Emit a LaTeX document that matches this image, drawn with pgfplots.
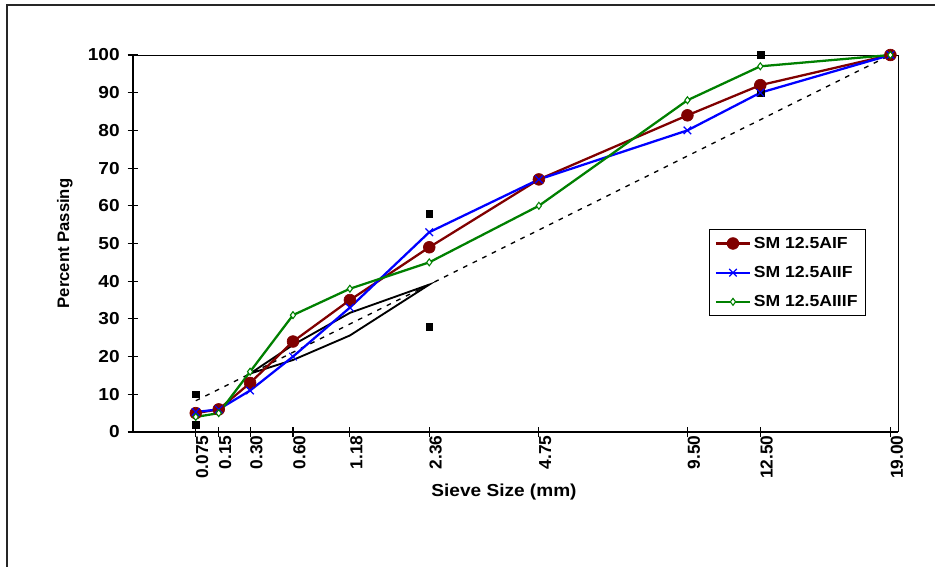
\documentclass[border=0pt]{standalone}
\usepackage{fontspec}
\setmainfont{Liberation Sans}
\newfontfamily\widefont{Liberation Sans}[FakeStretch=1.1]
\usepackage{pgfplots}
\pgfplotsset{compat=1.18}
\definecolor{sred}{RGB}{128,0,0}
\definecolor{sblue}{RGB}{0,0,255}
\definecolor{sgreen}{RGB}{0,128,0}
\begin{document}
\begin{tikzpicture}[x=0.75pt,y=0.75pt]
\useasboundingbox (0,0) rectangle (935,567);
\fill[white] (0,0) rectangle (935,567);
\draw[line width=1.4pt,black!85] (7,-20) -- (7,562) -- (960,562);
\begin{axis}[
  at={(99.75pt,101.25pt)}, anchor=south west,
  scale only axis, width=573.75pt, height=282.75pt,
  xmin=0, xmax=3.8, ymin=0, ymax=100,
  axis x line*=bottom, axis y line*=left,
  axis line style={line width=1.4pt},
  tick align=center, major tick length=8pt,
  tick style={line width=0.8pt, black},
  ytick={0,10,...,100},
  xtick={0.31172,0.42585,0.58173,0.79466,1.07732,1.47167,2.01613,2.75408,3.11602,3.76223},
  xticklabels={0.075,0.15,0.30,0.60,1.18,2.36,4.75,9.50,12.50,19.00},
  /pgf/number format/assume math mode=true,
  yticklabel style={font=\widefont\bfseries\fontsize{13}{15}\selectfont, xshift=-2.5pt},
  xticklabel style={font=\bfseries\fontsize{13}{15}\selectfont, rotate=90, anchor=north east, inner sep=1pt, yshift=1pt, xshift=2.5pt},
  xlabel={Sieve Size (mm)}, ylabel={Percent Passing},
  label style={font=\bfseries\fontsize{13}{15}\selectfont},
  xlabel style={at={(axis description cs:0.485,-0.159)}, anchor=center, font=\widefont\bfseries\fontsize{13}{15}\selectfont},
  ylabel style={at={(axis description cs:-0.089,0.5)}, anchor=center, font=\bfseries\fontsize{12.5}{15}\selectfont},
  clip=false,
  legend style={at={(rel axis cs:0.753,0.538)}, anchor=north west, draw=black, line width=0.6pt,
    font=\widefont\bfseries\fontsize{12}{14}\selectfont, row sep=8pt, inner xsep=4pt, inner ysep=3.5pt,
    /tikz/every even column/.append style={column sep=2pt}},
  legend cell align=left,
  legend image code/.code={\draw[mark repeat=2,mark phase=2] plot coordinates {(0.15cm,0cm) (0.6cm,0cm) (1.05cm,0cm)};},
]
% plot area frame
\draw[line width=0.7pt] (rel axis cs:0,1) -- (rel axis cs:1,1) -- (rel axis cs:1,0);
% maximum density line
\addplot[black, line width=1pt, dash pattern=on 3.5pt off 4.5pt, forget plot] coordinates {(0.31172,8.29) (3.76223,100)};
% restricted zone
\addplot[black, line width=1.4pt, forget plot] coordinates {(0.58173,15.5) (0.79466,23.1) (1.07732,31.6) (1.47167,39.1) (1.07732,25.6) (0.79466,19.1) (0.58173,15.5)};
% control points
\addplot[only marks, mark=square*, mark size=2.6pt, black, forget plot] coordinates {(0.31172,2) (0.31172,10) (1.47167,28) (1.47167,58) (3.11602,90) (3.11602,100)};
% series
\addplot[sred, line width=1.7pt, mark=*, mark size=4.4pt, mark options={fill=sred, line width=0.5pt}] coordinates {
(0.31172,5) (0.42585,6) (0.58173,13) (0.79466,24) (1.07732,35) (1.47167,49) (2.01613,67) (2.75408,84) (3.11602,92) (3.76223,100)};
\addlegendentry{SM 12.5AIF}
\addplot[sblue, line width=1.7pt, mark=x, mark size=4pt, mark options={line width=0.9pt}] coordinates {
(0.31172,5.3) (0.42585,6) (0.58173,11) (0.79466,20) (1.07732,33) (1.47167,53) (2.01613,67) (2.75408,80) (3.11602,90) (3.76223,100)};
\addlegendentry{SM 12.5AIIF}
\addplot[sgreen, line width=1.7pt, mark=diamond*, mark size=2.6pt, mark options={fill=white, line width=0.8pt}] coordinates {
(0.31172,4) (0.42585,5) (0.58173,16) (0.79466,31) (1.07732,38) (1.47167,45) (2.01613,60) (2.75408,88) (3.11602,97) (3.76223,100)};
\addlegendentry{SM 12.5AIIIF}
\end{axis}
\end{tikzpicture}
\end{document}
